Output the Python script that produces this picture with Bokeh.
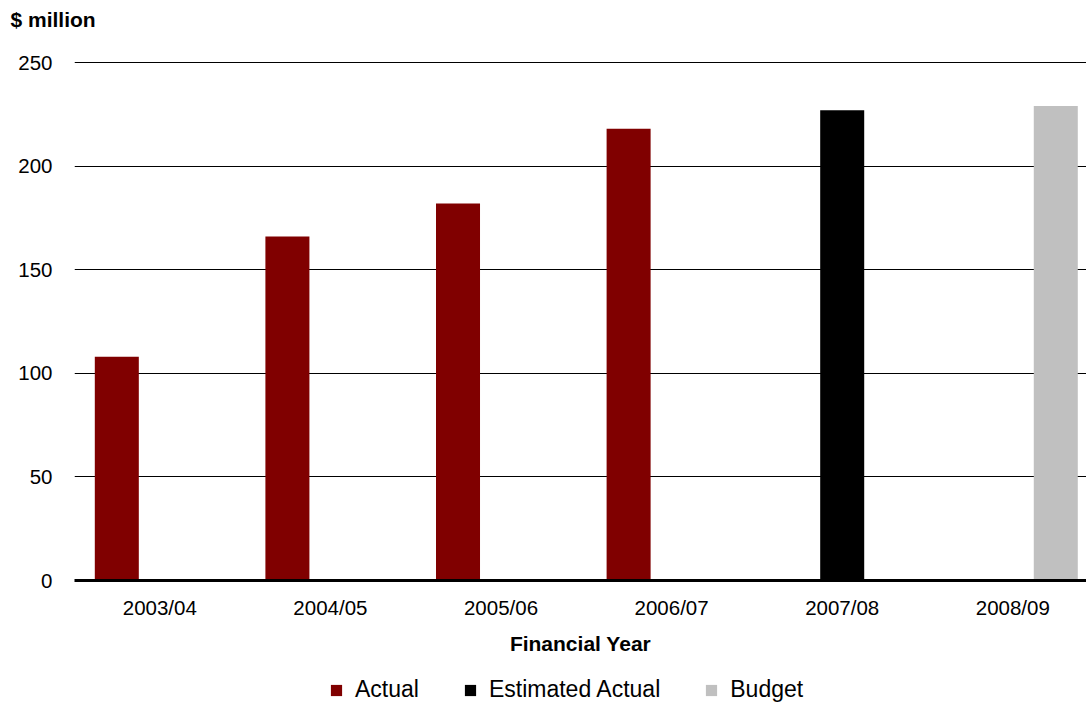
import numpy as np
from bokeh.plotting import figure
from bokeh.layouts import column
from bokeh.models import ColumnDataSource, Range1d, FixedTicker, Legend, LegendItem
from bokeh.transform import dodge
from bokeh.embed import file_html
from bokeh.resources import INLINE

# ---- data ----
years = ["2003/04", "2004/05", "2005/06", "2006/07", "2007/08", "2008/09"]
actual = [108, 166, 182, 218, np.nan, np.nan]
estimated = [np.nan, np.nan, np.nan, np.nan, 227, np.nan]
budget = [np.nan, np.nan, np.nan, np.nan, np.nan, 229]
y_ticks = [0, 50, 100, 150, 200, 250]
series_names = ["Actual", "Estimated Actual", "Budget"]
series_colors = ["#800000", "#000000", "#C0C0C0"]

FONT = "Liberation Sans"
W = 1086

src = ColumnDataSource(dict(idx=list(range(len(years))), actual=actual,
                            estimated=estimated, budget=budget))

H = 660
TOP = 38
p = figure(width=W, height=H, output_backend="svg", toolbar_location=None,
           x_range=Range1d(-0.5, 5.432),
           y_range=Range1d(0, (580 - TOP) / 2.0757),
           min_border_left=74, min_border_right=0, min_border_top=TOP,
           min_border_bottom=H - 580)
p.outline_line_color = None

bw = 0.258
offsets = [-0.252, 0.0, 0.252]
for field, off, col in zip(["actual", "estimated", "budget"], offsets, series_colors):
    p.vbar(x=dodge("idx", off, range=p.x_range), top=field, width=bw,
           source=src, fill_color=col, line_color=None)

# grid
p.xgrid.grid_line_color = None
p.ygrid.ticker = FixedTicker(ticks=y_ticks)
p.ygrid.grid_line_color = "#000000"
p.ygrid.grid_line_width = 1
p.ygrid.level = "underlay"

# x axis
xa = p.xaxis[0]
xa.ticker = FixedTicker(ticks=list(range(len(years))))
xa.major_label_overrides = {i: y for i, y in enumerate(years)}
xa.axis_line_color = "#000000"
xa.axis_line_width = 3
xa.major_tick_line_color = None
xa.minor_tick_line_color = None
xa.major_label_text_font = FONT
xa.major_label_text_font_size = "20.5px"
xa.major_label_text_color = "#000000"
xa.major_label_standoff = 9
xa.axis_label = "Financial Year"
xa.axis_label_text_font = FONT
xa.axis_label_text_font_size = "21px"
xa.axis_label_text_font_style = "bold"
xa.axis_label_text_color = "#000000"
xa.axis_label_standoff = 10

# y axis
ya = p.yaxis[0]
ya.ticker = FixedTicker(ticks=y_ticks)
ya.axis_line_color = None
ya.major_tick_line_color = None
ya.minor_tick_line_color = None
ya.major_label_text_font = FONT
ya.major_label_text_font_size = "20.5px"
ya.major_label_text_color = "#000000"
ya.major_label_standoff = 16

# title
p.title.text = "$ million"
p.title.text_font = FONT
p.title.text_font_size = "21px"
p.title.text_font_style = "bold"
p.title.text_color = "#000000"
p.title.align = "left"
p.title.vertical_align = "top"
p.title.offset = -64
p.title.standoff = 14

# ---- legend strip ----
lg = figure(width=W, height=704 - H, output_backend="svg", toolbar_location=None,
            x_range=Range1d(0, 1), y_range=Range1d(0, 1),
            x_axis_location=None, y_axis_location=None,
            min_border_left=0, min_border_right=0, min_border_top=0,
            min_border_bottom=0)
lg.outline_line_color = None
lg.grid.grid_line_color = None
items = []
for name, col in zip(series_names, series_colors):
    r = lg.vbar(x=[np.nan], top=[np.nan], width=0.1, fill_color=col, line_color=None)
    items.append(LegendItem(label=name, renderers=[r]))

legend = Legend(items=items, orientation="horizontal", location=(255, 1))
legend.label_text_font = FONT
legend.label_text_font_size = "23px"
legend.label_text_color = "#000000"
legend.glyph_width = 14
legend.glyph_height = 14
legend.label_standoff = 12
legend.spacing = 44
legend.padding = 0
legend.margin = 0
legend.border_line_color = None
legend.background_fill_alpha = 0
lg.add_layout(legend, "center")

layout = column(p, lg, spacing=0)
open("out.html", "w").write(file_html(layout, INLINE))
